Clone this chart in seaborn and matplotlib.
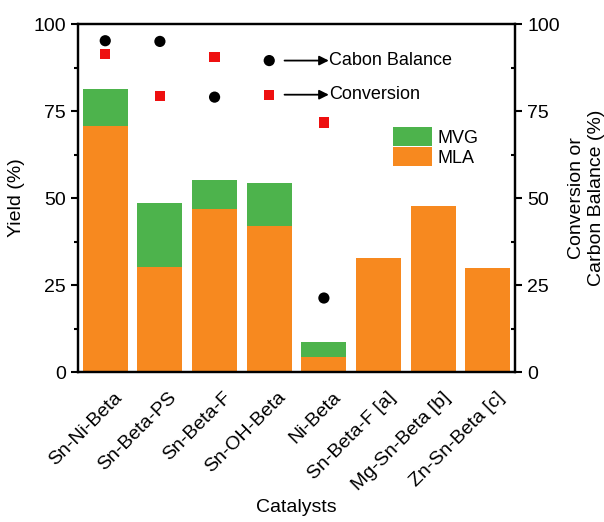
import matplotlib
matplotlib.use("Agg")
import matplotlib.pyplot as plt
import matplotlib.transforms as mtransforms
import seaborn as sns
import pandas as pd
import numpy as np

catalysts = ["Sn-Ni-Beta", "Sn-Beta-PS", "Sn-Beta-F", "Sn-OH-Beta", "Ni-Beta",
             "Sn-Beta-F [a]", "Mg-Sn-Beta [b]", "Zn-Sn-Beta [c]"]
mla = [70.8, 30.3, 47.0, 42.0, 4.5, 32.8, 47.8, 29.8]
mvg = [10.6, 18.3, 8.3, 12.3, 4.3, 0.0, 0.0, 0.0]
pt_cats = ["Sn-Ni-Beta", "Sn-Beta-PS", "Sn-Beta-F", "Ni-Beta"]
carbon_balance = [95.2, 95.0, 79.0, 21.3]
conversion = [91.4, 79.3, 90.5, 71.7]

sns.set_theme(style="ticks")
plt.rcParams['font.family'] = ['Liberation Sans', 'DejaVu Sans']
plt.rcParams['text.color'] = 'black'
plt.rcParams['axes.labelcolor'] = 'black'
plt.rcParams['xtick.color'] = 'black'
plt.rcParams['ytick.color'] = 'black'
plt.rcParams['axes.edgecolor'] = 'black'

df = pd.DataFrame({"cat": catalysts, "MLA": mla, "MVG": mvg})
df["total"] = df["MLA"] + df["MVG"]

green = "#4db34c"
orange = "#f7891f"
red = "#ee1010"

fig = plt.figure(figsize=(6.04, 5.22), dpi=100)
ax = fig.add_axes([0.129, 0.287, 0.724, 0.667])
sns.barplot(data=df, x="cat", y="total", color=green, width=0.82, ax=ax,
            saturation=1, label="MVG", linewidth=0)
sns.barplot(data=df, x="cat", y="MLA", color=orange, width=0.82, ax=ax,
            saturation=1, label="MLA", linewidth=0)
ax.set_xlim(-0.5, 7.5)
ax.set_ylim(0, 100)
ax.set_yticks([0, 25, 50, 75, 100])
ax.set_yticks(np.arange(12.5, 100, 25), minor=True)
ax.tick_params(axis="y", which="both", direction="out", labelsize=14, width=1.5)
ax.tick_params(axis="y", which="major", length=5)
ax.tick_params(axis="y", which="minor", length=3)
ax.tick_params(axis="x", length=0, labelsize=14, pad=3)
ax.set_xticks(range(len(catalysts)))
ax.set_xticklabels(catalysts, rotation=45, ha="right", rotation_mode="anchor")
offset = mtransforms.ScaledTranslation(6 / 72, -9 / 72, fig.dpi_scale_trans)
for lab in ax.get_xticklabels():
    lab.set_transform(lab.get_transform() + offset)
ax.set_xlabel("Catalysts", fontsize=14, labelpad=4)
ax.set_ylabel("Yield (%)", fontsize=14, labelpad=6)
for s in ax.spines.values():
    s.set_linewidth(1.6)
    s.set_visible(True)

h, l = ax.get_legend_handles_labels()
ax.legend(h, l, loc="upper left", bbox_to_anchor=(0.72, 0.705), frameon=False,
          fontsize=13, handlelength=2.2, handleheight=1.3, handletextpad=0.3,
          labelspacing=0.0, borderpad=0, borderaxespad=0)

ax2 = ax.twinx()
pdf = pd.DataFrame({"cat": pt_cats, "cb": carbon_balance, "conv": conversion})
pdf["x"] = [catalysts.index(c) for c in pt_cats]
sns.scatterplot(data=pdf, x="x", y="cb", marker="o", color="black", s=65,
                edgecolor="none", ax=ax2)
sns.scatterplot(data=pdf, x="x", y="conv", marker="s", color=red, s=55,
                edgecolor="none", ax=ax2)
ax2.set_ylim(0, 100)
ax2.set_xlim(-0.5, 7.5)
ax2.set_yticks([0, 25, 50, 75, 100])
ax2.set_yticks(np.arange(12.5, 100, 25), minor=True)
ax2.tick_params(axis="y", which="both", labelsize=14, width=1.5)
ax2.tick_params(axis="y", which="major", direction="out", length=5)
ax2.tick_params(axis="y", which="minor", direction="in", length=3)
ax2.set_ylabel("Conversion or\nCarbon Balance (%)", fontsize=14, labelpad=6)
ax2.set_xlabel("")
for s in ax2.spines.values():
    s.set_linewidth(1.6)

# annotation key
ax2.scatter([3], [89.5], marker="o", color="black", s=65, edgecolor="none")
ax2.scatter([3], [79.7], marker="s", color=red, s=55, edgecolor="none")
for yv, txt in [(89.5, "Cabon Balance"), (79.7, "Conversion")]:
    ax2.annotate("", xy=(4.09, yv), xytext=(3.28, yv),
                 arrowprops=dict(arrowstyle="-|>", color="black", lw=1.3,
                                 mutation_scale=14, shrinkA=0, shrinkB=0))
    ax2.text(4.1, yv, txt, fontsize=13, va="center", ha="left")

fig.savefig("out.png", dpi=100)
